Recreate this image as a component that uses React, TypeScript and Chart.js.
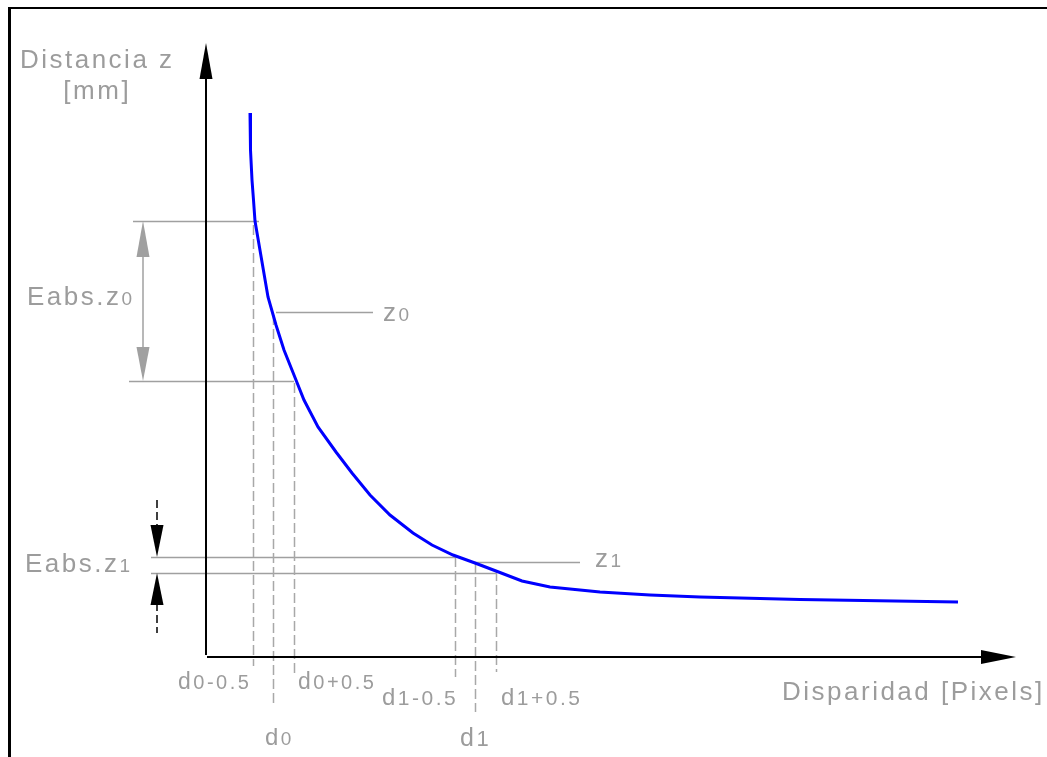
import React, { useEffect, useRef } from "react";
import { Chart, registerables } from "chart.js";

Chart.register(...registerables);

// ---- data (x: disparity units, y: distance units) ----
const X_MAX = 81;
const Y_MAX = 61.4;

const curveX = [4.4, 4.45, 4.6, 4.75, 4.9, 6.2, 7.0, 7.8, 8.8, 9.8, 11.2, 13.0, 14.6, 16.4, 18.4, 20.7, 22.6, 24.7, 26.9, 29.0, 31.6, 34.4, 39.4, 44.4, 49.4, 59.4, 75.2];
const curveY = [54.4, 50.7, 47.7, 45.7, 43.6, 36.0, 33.2, 30.7, 28.2, 25.7, 23.0, 20.5, 18.4, 16.2, 14.2, 12.4, 11.2, 10.2, 9.4, 8.6, 7.6, 7.0, 6.5, 6.2, 6.0, 5.75, 5.5];

// horizontal gray reference lines
const hLineY = [43.6, 34.5, 27.6, 10.0, 9.5, 8.4];
const hLineX0 = [-7.3, 7.0, -7.7, -5.5, 26.9, -5.5];
const hLineX1 = [5.3, 16.7, 8.8, 24.9, 37.4, 29.0];

// dashed vertical disparity lines
const dLineX = [4.65, 6.7, 8.75, 24.9, 26.9, 29.0];
const dLineTop = [43.2, 34.2, 27.4, 10.0, 9.4, 8.6];
const dLineBottom = [-0.9, -4.6, -1.6, -2.0, -5.5, -1.5];

// dimension arrows
const dimZ0X = -6.3;
const dimZ0Top = 43.6;
const dimZ0Bottom = 27.6;
const dimZ1X = -4.9;
const dimZ1Top = 10.0;
const dimZ1Bottom = 8.4;
const dimZ1TailTop = 15.7;
const dimZ1TailBottom = 2.4;

// labels
const labelMain = ["Distancia z", "[mm]", "Eabs.z", "z", "Eabs.z", "z", "d", "d", "d", "d", "d", "d", "Disparidad [Pixels]"];
const labelSub = ["", "", "0", "0", "1", "1", "0-0.5", "0+0.5", "0", "1-0.5", "1+0.5", "1", ""];
const labelX = [-11.0, -11.0, -17.9, 17.7, -18.1, 38.9, -2.8, 9.2, 5.9, 17.6, 29.5, 25.4, 57.6];
const labelY = [58.9, 55.8, 35.2, 33.6, 8.5, 9.0, -3.2, -3.2, -8.8, -4.8, -4.8, -8.9, -4.3];
const labelAlign = ["center", "center", "left", "left", "left", "left", "left", "left", "left", "left", "left", "left", "left"];
const labelSize = [26, 26, 26, 26, 26, 26, 23, 23, 24, 24, 24, 25, 26];
const labelSubSize = [19, 19, 19, 19, 19, 19, 20, 20, 19, 21, 21, 22, 19];

const FONT = '"Liberation Sans", Arial, sans-serif';
const GRAY_TEXT = "#9c9c9c";
const GRAY_LINE = "#a0a0a0";

function drawLabel(
  ctx: CanvasRenderingContext2D,
  main: string,
  sub: string,
  x: number,
  y: number,
  size: number,
  subSize: number,
  spacing: number,
  align: string
) {
  const chars: { ch: string; s: number; w: number }[] = [];
  let total = 0;
  const parts = [
    { t: main, s: size },
    { t: sub, s: subSize },
  ];
  for (const p of parts) {
    ctx.font = `${p.s}px ${FONT}`;
    for (const ch of p.t) {
      const w = ctx.measureText(ch).width;
      chars.push({ ch, s: p.s, w });
      total += w + spacing;
    }
  }
  total -= spacing;
  let cx = align === "center" ? x - total / 2 : align === "right" ? x - total : x;
  ctx.textBaseline = "alphabetic";
  ctx.textAlign = "left";
  for (const c of chars) {
    ctx.font = `${c.s}px ${FONT}`;
    ctx.fillText(c.ch, cx, y);
    cx += c.w + spacing;
  }
}

function arrowHead(
  ctx: CanvasRenderingContext2D,
  tx: number,
  ty: number,
  dx: number,
  dy: number,
  len: number,
  half: number,
  color: string
) {
  const bx = tx - dx * len;
  const by = ty - dy * len;
  const nx = -dy;
  const ny = dx;
  ctx.beginPath();
  ctx.moveTo(tx, ty);
  ctx.lineTo(bx + nx * half, by + ny * half);
  ctx.lineTo(bx - nx * half, by - ny * half);
  ctx.closePath();
  ctx.fillStyle = color;
  ctx.fill();
}

const diagramPlugin = {
  id: "diagram",
  beforeDatasetsDraw(chart: any) {
    const ctx: CanvasRenderingContext2D = chart.ctx;
    const sx = chart.scales.x;
    const sy = chart.scales.y;
    const px = (v: number) => sx.getPixelForValue(v);
    const py = (v: number) => sy.getPixelForValue(v);
    ctx.save();

    // gray horizontal lines
    ctx.strokeStyle = GRAY_LINE;
    ctx.lineWidth = 1.5;
    ctx.setLineDash([]);
    for (let i = 0; i < hLineY.length; i++) {
      const y = Math.round(py(hLineY[i])) + 0.5;
      ctx.beginPath();
      ctx.moveTo(px(hLineX0[i]), y);
      ctx.lineTo(px(hLineX1[i]), y);
      ctx.stroke();
    }

    // dashed verticals
    ctx.strokeStyle = "#a8a8a8";
    ctx.lineWidth = 1.5;
    ctx.setLineDash([10, 4]);
    for (let i = 0; i < dLineX.length; i++) {
      const x = Math.round(px(dLineX[i])) + 0.5;
      ctx.beginPath();
      ctx.moveTo(x, py(dLineTop[i]));
      ctx.lineTo(x, py(dLineBottom[i]));
      ctx.stroke();
    }
    ctx.setLineDash([]);

    // z0 dimension arrow (gray)
    {
      const x = px(dimZ0X);
      const yt = py(dimZ0Top);
      const yb = py(dimZ0Bottom);
      ctx.strokeStyle = GRAY_LINE;
      ctx.lineWidth = 1.5;
      ctx.beginPath();
      ctx.moveTo(x, yt + 20);
      ctx.lineTo(x, yb - 20);
      ctx.stroke();
      arrowHead(ctx, x, yt, 0, -1, 36, 6.5, "#a0a0a0");
      arrowHead(ctx, x, yb, 0, 1, 34, 6.5, "#a0a0a0");
    }

    // z1 dimension arrows (black, external)
    {
      const x = px(dimZ1X);
      const yt = py(dimZ1Top);
      const yb = py(dimZ1Bottom);
      ctx.strokeStyle = "#000";
      ctx.lineWidth = 1.5;
      ctx.setLineDash([8, 4]);
      ctx.beginPath();
      ctx.moveTo(x, py(dimZ1TailTop));
      ctx.lineTo(x, yt - 30);
      ctx.moveTo(x, yb + 30);
      ctx.lineTo(x, py(dimZ1TailBottom));
      ctx.stroke();
      ctx.setLineDash([]);
      arrowHead(ctx, x, yt, 0, 1, 32, 6.5, "#000");
      arrowHead(ctx, x, yb, 0, -1, 32, 6.5, "#000");
    }

    // axes
    ctx.strokeStyle = "#000";
    ctx.lineWidth = 2;
    const x0 = px(0);
    const y0 = py(0);
    const yTop = py(Y_MAX);
    const xRight = px(X_MAX);
    ctx.beginPath();
    ctx.moveTo(x0, y0 - 2);
    ctx.lineTo(x0, yTop + 20);
    ctx.moveTo(x0 + 1, y0);
    ctx.lineTo(xRight - 20, y0);
    ctx.stroke();
    arrowHead(ctx, x0, yTop, 0, -1, 36, 6.5, "#000");
    arrowHead(ctx, xRight, y0, 1, 0, 35, 7, "#000");

    ctx.restore();
  },
  afterDraw(chart: any) {
    const ctx: CanvasRenderingContext2D = chart.ctx;
    const sx = chart.scales.x;
    const sy = chart.scales.y;
    ctx.save();
    ctx.fillStyle = GRAY_TEXT;
    for (let i = 0; i < labelMain.length; i++) {
      drawLabel(
        ctx,
        labelMain[i],
        labelSub[i],
        sx.getPixelForValue(labelX[i]),
        sy.getPixelForValue(labelY[i]),
        labelSize[i],
        labelSubSize[i],
        2.5,
        labelAlign[i]
      );
    }
    ctx.restore();
  },
};

export default function App() {
  const canvasRef = useRef<HTMLCanvasElement | null>(null);

  useEffect(() => {
    const canvas = canvasRef.current;
    if (!canvas) return;
    const chart = new Chart(canvas, {
      type: "line",
      data: {
        datasets: [
          {
            data: curveX.map((x, i) => ({ x, y: curveY[i] })),
            borderColor: "#0000ff",
            borderWidth: 3,
            pointRadius: 0,
            tension: 0,
            fill: false,
          },
        ],
      },
      options: {
        animation: false,
        responsive: false,
        maintainAspectRatio: false,
        devicePixelRatio: 1,
        events: [],
        layout: { padding: { left: 206, right: 31, top: 43, bottom: 100 } },
        scales: {
          x: { type: "linear", min: 0, max: X_MAX, display: false },
          y: { type: "linear", min: 0, max: Y_MAX, display: false },
        },
        plugins: {
          legend: { display: false },
          tooltip: { enabled: false },
        },
      },
      plugins: [diagramPlugin],
    });
    return () => chart.destroy();
  }, []);

  return (
    <div
      style={{
        position: "fixed",
        left: 0,
        top: 0,
        width: 1047,
        height: 757,
        overflow: "hidden",
        background: "#fff",
      }}
    >
      <canvas ref={canvasRef} width={1047} height={757} style={{ display: "block", position: "absolute", left: 0, top: 0 }} />
      <div
        style={{
          position: "absolute",
          left: 8,
          top: 7,
          width: 2000,
          height: 2000,
          borderLeft: "3px solid #000",
          borderTop: "2px solid #000",
          pointerEvents: "none",
        }}
      />
    </div>
  );
}
